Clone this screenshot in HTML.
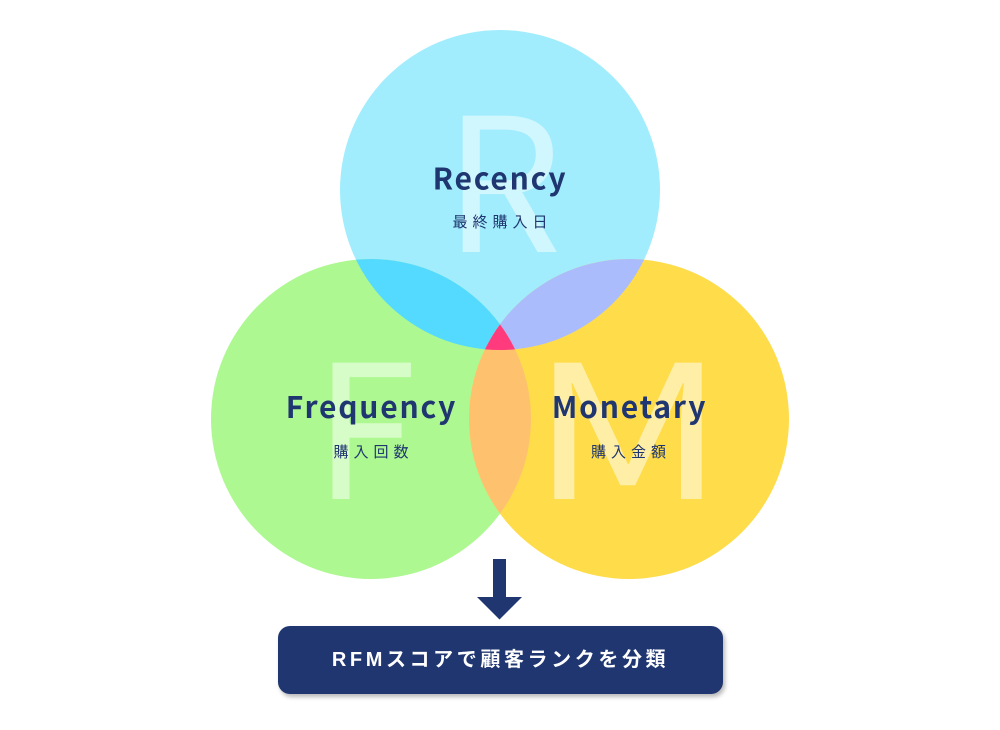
<!DOCTYPE html>
<html>
<head>
<meta charset="utf-8">
<style>
  html, body { margin:0; padding:0; background:#ffffff; }
  body { width:1000px; height:730px; position:relative; overflow:hidden; }
  svg { position:absolute; left:0; top:0; }
  .big { font-family:"Noto Sans CJK JP","Liberation Sans",sans-serif; font-weight:400; font-size:186px; fill:#ffffff; fill-opacity:0.5; }
  .ttl { font-family:"Noto Sans CJK JP","Liberation Sans",sans-serif; font-weight:700; font-size:30px; fill:#1f3670; letter-spacing:1.8px; }
  .sub { font-family:"Liberation Sans","Noto Sans CJK JP",sans-serif; font-weight:400; font-size:15px; fill:#1f3670; letter-spacing:5px; }
  .box {
    position:absolute; left:278px; top:626px; width:445px; height:68px;
    background:#1f3670; border-radius:12px;
    box-shadow:2px 3px 4px rgba(0,0,0,0.28);
    color:#ffffff; text-align:center; line-height:68px;
    font-family:"Liberation Sans","Noto Sans CJK JP",sans-serif; font-weight:700; font-size:20px; letter-spacing:3.6px;
  }
</style>
</head>
<body>
<svg width="1000" height="730" viewBox="0 0 1000 730" xmlns="http://www.w3.org/2000/svg">
  <defs>
    <clipPath id="cR"><circle cx="500" cy="190" r="160"/></clipPath>
    <clipPath id="cF"><circle cx="371" cy="419" r="160"/></clipPath>
  </defs>
  <!-- base circles -->
  <circle cx="500" cy="190" r="160" fill="#a1edfd"/>
  <circle cx="371" cy="419" r="160" fill="#adf890"/>
  <circle cx="629" cy="419" r="160" fill="#fedc4a"/>
  <!-- overlaps -->
  <circle cx="371" cy="419" r="160" fill="#55daff" clip-path="url(#cR)"/>
  <circle cx="629" cy="419" r="160" fill="#aabcfc" clip-path="url(#cR)"/>
  <circle cx="629" cy="419" r="160" fill="#fec26f" clip-path="url(#cF)"/>
  <g clip-path="url(#cR)">
    <circle cx="629" cy="419" r="160" fill="#ff3b7e" clip-path="url(#cF)"/>
  </g>
  <!-- big letters -->
  <text class="big" x="503" y="252" text-anchor="middle">R</text>
  <text class="big" x="365" y="499" text-anchor="middle">F</text>
  <text class="big" transform="translate(628,499) scale(1.3,1)" x="0" y="0" text-anchor="middle">M</text>
  <!-- titles -->
  <text class="ttl" x="500" y="189.5" text-anchor="middle">Recency</text>
  <text class="sub" x="502.5" y="227" text-anchor="middle">最終購入日</text>
  <text class="ttl" x="371.5" y="418" text-anchor="middle">Frequency</text>
  <text class="sub" x="373.5" y="457" text-anchor="middle">購入回数</text>
  <text class="ttl" x="629.5" y="418" text-anchor="middle">Monetary</text>
  <text class="sub" x="631" y="457" text-anchor="middle">購入金額</text>
  <!-- arrow -->
  <rect x="493" y="559" width="13" height="39" fill="#1f3670"/>
  <polygon points="477,597 522,597 499.5,619.5" fill="#1f3670"/>
</svg>
<div class="box">RFMスコアで顧客ランクを分類</div>
</body>
</html>
